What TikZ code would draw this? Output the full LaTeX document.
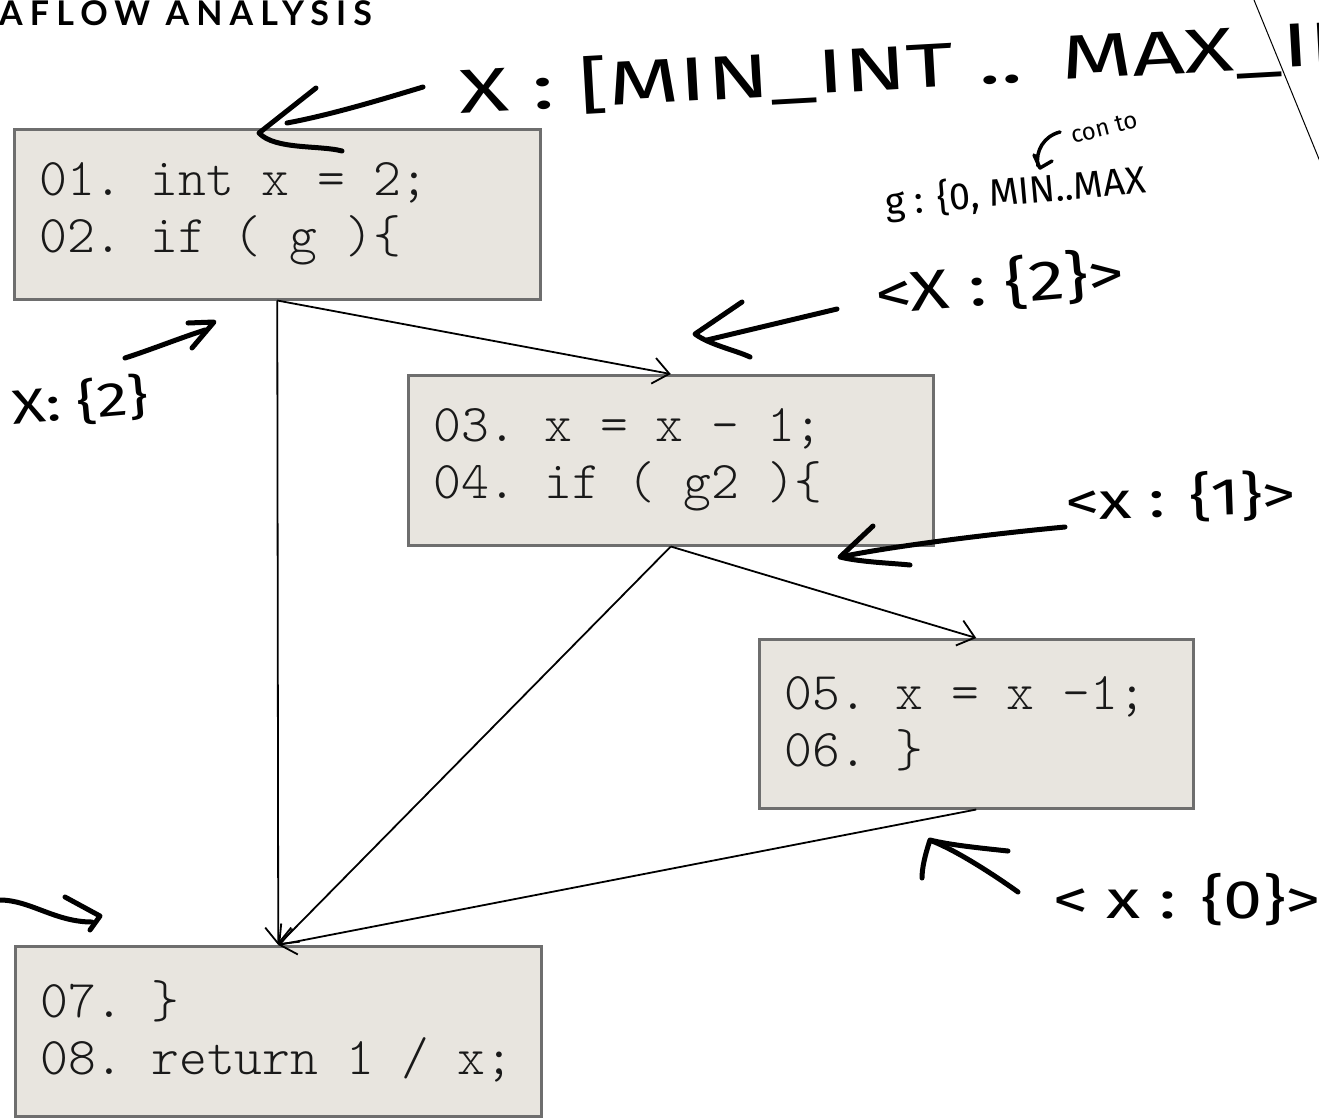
\documentclass[tikz,border=0pt]{standalone}
\usepackage{fontspec}
\setmonofont{lmmonolt10-regular.otf}
\newfontfamily\titlefont[LetterSpace=21]{Lato}
\newfontfamily\handfont{Fira Sans}
\newfontfamily\handwide[FakeStretch=1.3]{Fira Sans}
\newfontfamily\handwider[FakeStretch=1.48]{Fira Sans}
\usetikzlibrary{arrows.meta}
\definecolor{boxfill}{HTML}{E8E5DF}
\definecolor{boxline}{HTML}{6E6E6E}
\newcommand{\codefont}{\ttfamily\fontsize{53}{57}\selectfont\frenchspacing}
\newcommand{\monosp}{\spaceskip=0.525em\relax\xspaceskip=0.525em\relax}
\tikzset{
  codebox/.style={draw=boxline, line width=2.5pt, fill=boxfill, anchor=north west,
    inner xsep=25pt, inner ysep=0pt, align=flush left,
    font=\codefont, text=black!90},
  flow/.style={-{Straight Barb[length=16pt,width=26pt]}, line width=1.8pt},
  ink/.style={line width=5pt, line cap=round, line join=round},
  hand/.style={inner sep=0pt, font=\handwide\fontsize{50}{50}\selectfont},
  bigink/.style={hand, anchor=base west, rotate=3.2, font=\handwider\fontsize{62}{62}\selectfont},
}
\begin{document}
\begin{tikzpicture}[x=1pt,y=-1pt]
\useasboundingbox (0,0) rectangle (1319,1117);
\clip (0,0) rectangle (1319,1117);

% title
\node[anchor=base west, inner sep=0pt] (title) at (-1,25)
  {\titlefont\bfseries\fontsize{34}{34}\selectfont AFLOW ANALYSIS};

% code boxes
\node[codebox, text width=476pt, minimum height=170pt] (b1) at (13,128)
  {\monosp 01. int x = 2;\\02. if ( g )\{};
\node[codebox, text width=475pt, minimum height=170pt] (b2) at (407,374)
  {\monosp 03. x = x – 1;\\04. if ( g2 )\{};
\node[codebox, text width=384pt, minimum height=169pt] (b3) at (758,638)
  {\monosp 05. x = x -1;\\06. \}};
\node[codebox, text width=476pt, minimum height=170pt] (b4) at (14,945)
  {\monosp 07. \}\\08. return 1 / x;};

% control-flow edges
\draw[flow] (b1.south) -- (b2.north);
\draw[flow] (b1.south) -- (b4.north);
\draw[flow] (b2.south) -- (b3.north);
\draw[flow] (b2.south) -- (b4.north);
\draw[flow] (b3.south) -- (b4.north);

% thin stray line top right
\draw[line width=1pt] (1254,0) -- (1330,186);

% handwritten annotations
\node[bigink] (t1a) at (460,114) {X : [MIN\_INT ..};
\node[bigink] (t1b) at (1062,80) {MAX\_INT};
\node[hand, rotate=14, font=\handfont\fontsize{24}{24}\selectfont] (t2) at (1104,128) {con to};
\node[hand, anchor=base west, rotate=5, font=\handfont\fontsize{38}{38}\selectfont] (t3) at (886,216)
  {g : \{0, MIN..MAX};
\node[hand, rotate=5, font=\handwide\fontsize{56}{56}\selectfont] (t4) at (1000,284) {<X : \{2\}>};
\node[hand, rotate=5, font=\handwide\fontsize{48}{48}\selectfont] (t5) at (80,402) {X: \{2\}};
\node[hand, rotate=2, font=\handwide\fontsize{52}{52}\selectfont] (t6) at (1181,498) {<x : \{1\}>};
\node[hand, font=\handwide\fontsize{54}{54}\selectfont] (t7) at (1187,900) {< x : \{0\}>};

% hand arrows
% to box 1 top
\draw[ink] (423,87) .. controls (380,100) and (330,115) .. (287,123);
\draw[ink] (316,88) -- (259,133) .. controls (275,150) and (320,145) .. (342,151);
% "con to" arrow
\draw[line width=3.5pt, line cap=round] (1060,132) .. controls (1044,136) and (1035,151) .. (1038,166);
\draw[line width=3.5pt, line cap=round, line join=round] (1034,155) -- (1040,168) -- (1052,161);
% to edge b1-b2 from <X:{2}>
\draw[ink] (837,309) -- (707,340);
\draw[ink] (742,302) -- (695,334) .. controls (710,345) and (735,350) .. (750,357);
% left X:{2} arrow
\draw[ink] (125,358) .. controls (150,350) and (180,338) .. (205,330);
\draw[ink] (188,323) -- (214,322) -- (192,348);
% <x:{1}> arrow
\draw[ink] (1065,527) .. controls (1000,533) and (900,545) .. (845,556);
\draw[ink] (873,526) -- (840,557) .. controls (860,562) and (890,563) .. (910,565);
% <x:{0}> arrow
\draw[ink] (1018,892) .. controls (990,872) and (955,850) .. (932,841);
\draw[ink] (1008,851) .. controls (980,848) and (950,845) .. (930,840) .. controls (925,855) and (922,868) .. (922,878);
% bottom-left arrow
\draw[ink] (0,900) .. controls (30,900) and (55,922) .. (92,922);
\draw[ink] (65,897) -- (100,916) -- (90,930);
\end{tikzpicture}
\end{document}
